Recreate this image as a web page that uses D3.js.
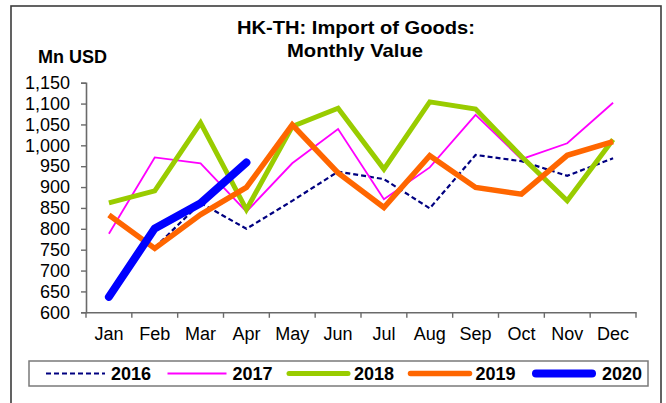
<!DOCTYPE html>
<html>
<head>
<meta charset="utf-8">
<script src="https://cdn.jsdelivr.net/npm/d3@7"></script>
<style>
  html, body { margin: 0; padding: 0; background: #fff; }
  svg { display: block; font-family: "Liberation Sans", Arial, sans-serif; }
</style>
</head>
<body>
<svg id="chart" width="666" height="403"></svg>
<script>
// Monthly import values, HK from Thailand (Mn USD)
const months = ["Jan", "Feb", "Mar", "Apr", "May", "Jun", "Jul", "Aug", "Sep", "Oct", "Nov", "Dec"];
const years = ["2016", "2017", "2018", "2019", "2020"];
const values2016 = [null, 755, 862, 800, 867, 937, 919, 849, 977, 962, 927, 969];
const values2017 = [788, 971, 957, 841, 957, 1039, 871, 947, 1073, 967, 1005, 1102];
const values2018 = [862, 891, 1054, 846, 1045, 1089, 943, 1104, 1087, 973, 867, 1014];
const values2019 = [833, 753, 834, 899, 1049, 934, 851, 975, 899, 883, 976, 1009];
const values2020 = [637, 801, 861, 959];
const yTicks = [600, 650, 700, 750, 800, 850, 900, 950, 1000, 1050, 1100, 1150];

const seriesValues = [values2016, values2017, values2018, values2019, values2020];
const styles = [
  { color: "#000080", width: 2.2, dash: "5,3", cap: "butt", join: "miter" },
  { color: "#FF00FF", width: 1.8, dash: null, cap: "butt", join: "miter" },
  { color: "#99CC00", width: 5, dash: null, cap: "butt", join: "miter" },
  { color: "#FF6600", width: 5.5, dash: null, cap: "butt", join: "miter" },
  { color: "#0000FF", width: 8, dash: null, cap: "round", join: "round" }
];

const svg = d3.select("#chart");

// outer frame
svg.append("rect")
  .attr("x", 11).attr("y", 6).attr("width", 650).attr("height", 430)
  .attr("fill", "#fff").attr("stroke", "#3c3c3c").attr("stroke-width", 1.6);

// title
const title = svg.append("text")
  .attr("text-anchor", "middle")
  .attr("font-weight", "bold").attr("font-size", 18.5).attr("fill", "#000");
title.append("tspan").attr("x", 356).attr("y", 34)
  .attr("textLength", 238).attr("lengthAdjust", "spacingAndGlyphs")
  .text("HK-TH: Import of Goods:");
title.append("tspan").attr("x", 355).attr("y", 57)
  .attr("textLength", 136).attr("lengthAdjust", "spacingAndGlyphs")
  .text("Monthly Value");

svg.append("text")
  .attr("x", 38).attr("y", 63)
  .attr("font-weight", "bold").attr("font-size", 18).attr("fill", "#000")
  .text("Mn USD");

// scales
const x = d3.scaleBand().domain(months).range([86, 636]);
const y = d3.scaleLinear().domain([600, 1150]).range([312.3, 82.7]);
const cx = m => x(m) + x.bandwidth() / 2;

// y axis
const yAxis = svg.append("g")
  .attr("transform", "translate(86,0)")
  .call(d3.axisLeft(y).tickValues(yTicks).tickFormat(d3.format(",")).tickSize(5).tickPadding(11));
yAxis.select(".domain").attr("stroke", "#6a6a6a").attr("stroke-width", 1.6);
yAxis.selectAll(".tick line").attr("stroke", "#6a6a6a").attr("stroke-width", 1.4);
yAxis.selectAll(".tick text")
  .attr("font-size", 18).attr("fill", "#000")
  .attr("font-family", "Liberation Sans, Arial, sans-serif");

// x axis: labels centred in each month, ticks on month boundaries
const xAxis = svg.append("g")
  .attr("transform", "translate(0,312.3)")
  .call(d3.axisBottom(x).tickSize(0).tickPadding(15));
xAxis.select(".domain").attr("stroke", "#6a6a6a").attr("stroke-width", 1.6);
xAxis.selectAll(".tick text")
  .attr("font-size", 18).attr("fill", "#000")
  .attr("font-family", "Liberation Sans, Arial, sans-serif");
const boundaries = months.map(m => x(m)).concat([x.range()[1]]);
xAxis.selectAll("line.bound")
  .data(boundaries)
  .join("line")
  .attr("class", "bound")
  .attr("x1", d => d).attr("x2", d => d)
  .attr("y1", 0).attr("y2", 5.5)
  .attr("stroke", "#6a6a6a").attr("stroke-width", 1.4);

// series lines
const line = d3.line()
  .defined(d => d.v !== null)
  .x(d => cx(d.m))
  .y(d => y(d.v));

seriesValues.forEach((vals, i) => {
  const pts = vals.map((v, j) => ({ m: months[j], v }));
  const s = styles[i];
  svg.append("path")
    .datum(pts)
    .attr("d", line)
    .attr("fill", "none")
    .attr("stroke", s.color)
    .attr("stroke-width", s.width)
    .attr("stroke-dasharray", s.dash)
    .attr("stroke-linecap", s.cap)
    .attr("stroke-linejoin", s.join);
});

// legend
const legend = svg.append("g");
legend.append("rect")
  .attr("x", 29).attr("y", 361).attr("width", 619).attr("height", 25)
  .attr("fill", "#fff").attr("stroke", "#7a7a7a").attr("stroke-width", 1.5);

const legendX = d3.scalePoint().domain(years).range([46, 532]);
years.forEach((yr, i) => {
  const s = styles[i];
  const x0 = legendX(yr);
  const inset = s.cap === "round" ? s.width / 2 : 0;
  const len = i === 4 ? 64 : 59;
  legend.append("line")
    .attr("x1", x0 + inset).attr("x2", x0 + len - inset)
    .attr("y1", 373.5).attr("y2", 373.5)
    .attr("stroke", s.color)
    .attr("stroke-width", s.width)
    .attr("stroke-dasharray", s.dash)
    .attr("stroke-linecap", i >= 2 ? "round" : "butt");
  legend.append("text")
    .attr("x", x0 + len + 6).attr("y", 380)
    .attr("font-weight", "bold").attr("font-size", 18).attr("fill", "#000")
    .text(yr);
});
</script>
</body>
</html>
